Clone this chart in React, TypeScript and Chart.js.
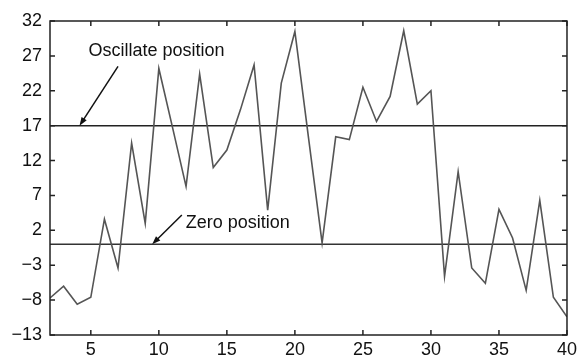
import React, { useEffect, useRef } from "react";
import { Chart, registerables } from "chart.js";

Chart.register(...registerables);

const X_VALUES = [2, 3, 4, 5, 6, 7, 8, 9, 10, 11, 12, 13, 14, 15, 16, 17, 18, 19, 20, 21, 22, 23, 24, 25, 26, 27, 28, 29, 30, 31, 32, 33, 34, 35, 36, 37, 38, 39, 40];
const Y_VALUES = [-7.7, -6.0, -8.6, -7.6, 3.6, -3.4, 14.5, 3.0, 25.2, 16.8, 8.3, 24.4, 11.0, 13.5, 19.3, 25.7, 4.9, 23.1, 30.5, 15.3, 0.2, 15.4, 15.0, 22.5, 17.6, 21.2, 30.6, 20.1, 22.0, -4.6, 10.4, -3.4, -5.6, 5.0, 0.9, -6.6, 6.3, -7.6, -10.4];
const X_TICKS = [5, 10, 15, 20, 25, 30, 35, 40];
const Y_TICKS = [-13, -8, -3, 2, 7, 12, 17, 22, 27, 32];
const X_MIN = 2;
const X_MAX = 40;
const Y_MIN = -13;
const Y_MAX = 32;
const OSCILLATE_LEVEL = 17;
const ZERO_LEVEL = 0;

const ANNOTATIONS = [
  { text: "Oscillate position", tx: 4.83, ty: 27.7, ax: 7.0, ay: 25.5, bx: 4.17, by: OSCILLATE_LEVEL },
  { text: "Zero position", tx: 11.98, ty: 3.0, ax: 11.69, ay: 4.2, bx: 9.51, by: ZERO_LEVEL },
];

const FONT_FAMILY = "'Liberation Sans', Arial, sans-serif";

const framePlugin = {
  id: "framePlugin",
  afterDraw(chart: any) {
    const ctx = chart.ctx;
    const { left, right, top, bottom } = chart.chartArea;
    const xs = chart.scales.x;
    const ys = chart.scales.y;
    ctx.save();
    ctx.strokeStyle = "#222";
    ctx.lineWidth = 1.5;
    ctx.strokeRect(left, top, right - left, bottom - top);
    const tl = 5;
    ctx.beginPath();
    X_TICKS.forEach((v) => {
      const px = xs.getPixelForValue(v);
      ctx.moveTo(px, bottom);
      ctx.lineTo(px, bottom - tl);
      ctx.moveTo(px, top);
      ctx.lineTo(px, top + tl);
    });
    Y_TICKS.forEach((v) => {
      const py = ys.getPixelForValue(v);
      ctx.moveTo(left, py);
      ctx.lineTo(left + tl, py);
      ctx.moveTo(right, py);
      ctx.lineTo(right - tl, py);
    });
    ctx.stroke();

    // annotations
    ctx.fillStyle = "#111";
    ctx.strokeStyle = "#111";
    ctx.font = `18px ${FONT_FAMILY}`;
    ctx.textBaseline = "middle";
    ctx.textAlign = "left";
    ANNOTATIONS.forEach((a) => {
      ctx.fillText(a.text, xs.getPixelForValue(a.tx), ys.getPixelForValue(a.ty));
      const x1 = xs.getPixelForValue(a.ax);
      const y1 = ys.getPixelForValue(a.ay);
      const x2 = xs.getPixelForValue(a.bx);
      const y2 = ys.getPixelForValue(a.by);
      const ang = Math.atan2(y2 - y1, x2 - x1);
      const hl = 9;
      const hw = 0.35;
      ctx.lineWidth = 1.5;
      ctx.beginPath();
      ctx.moveTo(x1, y1);
      ctx.lineTo(x2 - Math.cos(ang) * 4, y2 - Math.sin(ang) * 4);
      ctx.stroke();
      ctx.beginPath();
      ctx.moveTo(x2, y2);
      ctx.lineTo(x2 - hl * Math.cos(ang - hw), y2 - hl * Math.sin(ang - hw));
      ctx.lineTo(x2 - hl * Math.cos(ang + hw), y2 - hl * Math.sin(ang + hw));
      ctx.closePath();
      ctx.fill();
    });
    ctx.restore();
  },
};

function fmt(v: number) {
  return v < 0 ? "\u2212" + Math.abs(v) : String(v);
}

export default function App() {
  const ref = useRef<HTMLCanvasElement>(null);
  useEffect(() => {
    document.body.style.margin = "0";
    const points = X_VALUES.map((x, i) => ({ x, y: Y_VALUES[i] }));
    const chart = new Chart(ref.current as HTMLCanvasElement, {
      type: "line",
      data: {
        datasets: [
          {
            data: points,
            borderColor: "#555",
            borderWidth: 1.6,
            pointRadius: 0,
            tension: 0,
          },
          {
            data: [
              { x: X_MIN, y: OSCILLATE_LEVEL },
              { x: X_MAX, y: OSCILLATE_LEVEL },
            ],
            borderColor: "#222",
            borderWidth: 1.5,
            pointRadius: 0,
          },
          {
            data: [
              { x: X_MIN, y: ZERO_LEVEL },
              { x: X_MAX, y: ZERO_LEVEL },
            ],
            borderColor: "#333",
            borderWidth: 1.5,
            pointRadius: 0,
          },
        ],
      },
      options: {
        animation: false,
        responsive: false,
        maintainAspectRatio: false,
        layout: { padding: { top: 21, right: 10, left: 0, bottom: 0 } },
        plugins: { legend: { display: false }, tooltip: { enabled: false } },
        scales: {
          x: {
            type: "linear",
            min: X_MIN,
            max: X_MAX,
            grid: { display: false, drawTicks: false },
            border: { display: false },
            afterBuildTicks: (s: any) => {
              s.ticks = X_TICKS.map((v) => ({ value: v }));
            },
            afterFit: (s: any) => {
              s.height = 25;
            },
            ticks: {
              padding: 4,
              color: "#111",
              maxRotation: 0,
              autoSkip: false,
              font: { size: 18, family: FONT_FAMILY },
              callback: (v: any) => fmt(Number(v)),
            },
          },
          y: {
            type: "linear",
            min: Y_MIN,
            max: Y_MAX,
            grid: { display: false, drawTicks: false },
            border: { display: false },
            afterBuildTicks: (s: any) => {
              s.ticks = Y_TICKS.map((v) => ({ value: v }));
            },
            afterFit: (s: any) => {
              s.width = 50;
            },
            ticks: {
              padding: 8,
              color: "#111",
              autoSkip: false,
              font: { size: 18, family: FONT_FAMILY },
              callback: (v: any) => fmt(Number(v)),
            },
          },
        },
      },
      plugins: [framePlugin],
    } as any);
    return () => chart.destroy();
  }, []);
  return (
    <div style={{ position: "fixed", left: 0, top: 0, width: 581, height: 360, background: "#fff" }}>
      <canvas ref={ref} width={581} height={360} style={{ width: 581, height: 360, display: "block" }} />
    </div>
  );
}
